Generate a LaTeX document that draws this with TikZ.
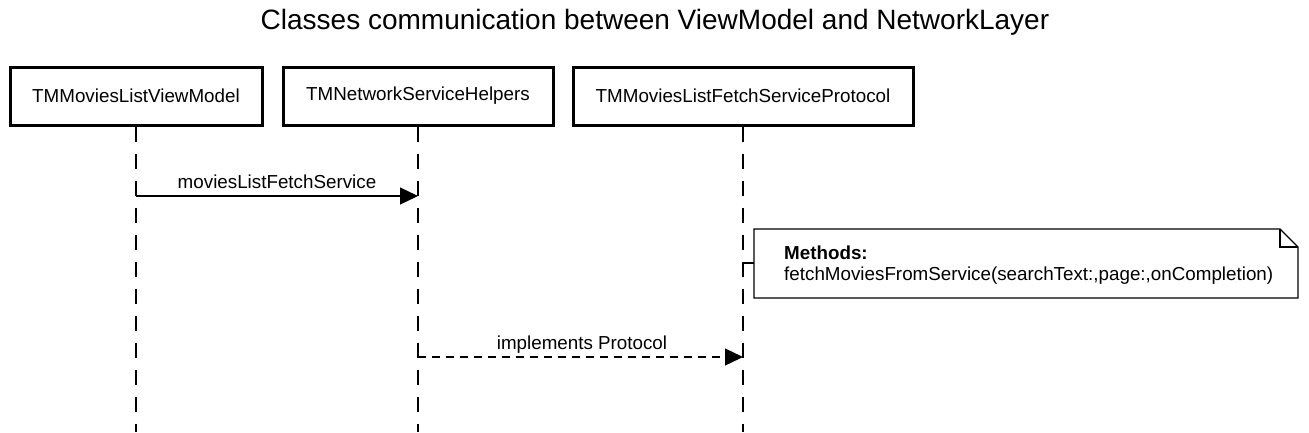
\documentclass[tikz,border=0pt]{standalone}
\usepackage{fontspec}
\setmainfont{Liberation Sans}
\usetikzlibrary{arrows.meta}
\begin{document}
\begin{tikzpicture}[x=1pt,y=-1pt,
  every node/.style={font=\fontsize{18.8}{21}\selectfont},
  actor/.style={draw,line width=3pt,minimum height=58pt,inner sep=0pt},
  lifeline/.style={line width=1.6pt,dash pattern=on 15pt off 12pt},
  msg/.style={line width=1.3pt,-{Triangle[length=18pt,width=17pt]}},
  notebox/.style={line width=1.3pt},
  lbl/.style={inner sep=0pt,anchor=base}]
\useasboundingbox (0,0) rectangle (1309,432);
\node[inner sep=0pt] (title) at (655,22) {\fontsize{28}{32}\selectfont Classes communication between ViewModel and NetworkLayer};
\node[actor,minimum width=252pt] (a1) at (136,96) {TMMoviesListViewModel};
\node[actor,minimum width=270pt] (a2) at (418,96) {TMNetworkServiceHelpers};
\node[actor,minimum width=340pt] (a3) at (743,96) {TMMoviesListFetchServiceProtocol};
\coordinate (bot) at (0,432);
\draw[lifeline] (a1.south) -- (a1.south |- bot);
\draw[lifeline] (a2.south) -- (a2.south |- bot);
\draw[lifeline] (a3.south) -- (a3.south |- bot);
% message 1
\coordinate (m1s) at (a1.south |- 0,196);
\coordinate (m1e) at (a2.south |- 0,196);
\draw[msg] (m1s) -- (m1e);
\node[lbl] (l1) at (277,188) {moviesListFetchService};
% note
\node[inner sep=0pt,align=left,anchor=north west] (note) at (784,246) {\textbf{Methods:}\\fetchMoviesFromService(searchText:,page:,onCompletion)};
\coordinate (nl) at (754,263);
\coordinate (ls) at (a3.south |- nl);
\draw[notebox] (ls) -- (nl);
\draw[notebox] (754,229) -- (1280,229) -- (1298,247) -- (1298,298) -- (754,298) -- cycle;
\draw[notebox] (1280,229) -- (1280,247) -- (1298,247);
% message 2
\coordinate (m2s) at (a2.south |- 0,357);
\coordinate (m2e) at (a3.south |- 0,357);
\draw[msg,dash pattern=on 8pt off 6pt] (m2s) -- (m2e);
\node[lbl] (l2) at (582,349) {implements Protocol};
\end{tikzpicture}
\end{document}
